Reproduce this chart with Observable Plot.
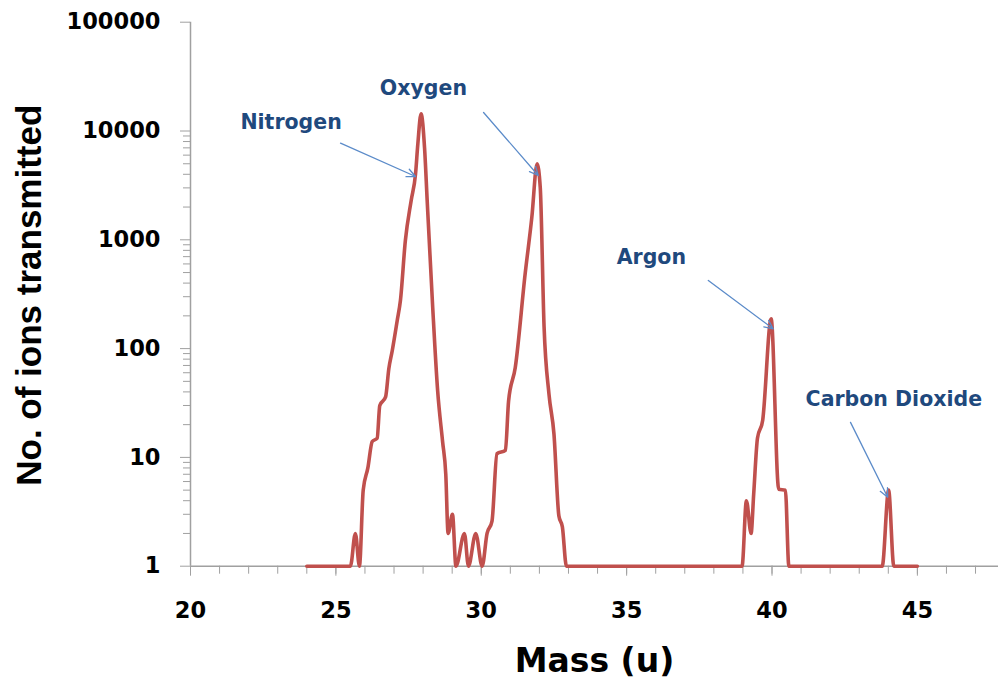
<!DOCTYPE html>
<html>
<head>
<meta charset="utf-8">
<script src="https://cdn.jsdelivr.net/npm/d3@7"></script>
<script src="https://cdn.jsdelivr.net/npm/@observablehq/plot@0.6"></script>
<style>
  html, body { margin: 0; padding: 0; background: #fff; }
  #chart svg { display: block; }
</style>
</head>
<body>
<div id="chart"></div>
<script>
// Mass spectrum of air: ion counts transmitted at each mass setting
const mass = [
  24.0, 25.5, 25.67, 25.81, 25.94, 26.10, 26.25, 26.42, 26.51, 26.71, 26.82, 26.94,
  27.11, 27.22, 27.39, 27.59, 27.74, 27.82, 27.93, 28.05, 28.14, 28.33, 28.50, 28.67,
  28.78, 28.86, 29.01, 29.13, 29.42, 29.56, 29.81, 30.03, 30.20, 30.37, 30.54, 30.83,
  30.94, 31.17, 31.51, 31.74, 31.92, 32.03, 32.16, 32.33, 32.50, 32.67, 32.79, 32.93,
  38.97, 39.12, 39.28, 39.37, 39.50, 39.68, 39.97, 40.23, 40.46, 40.58,
  43.79, 44.01, 44.19, 45.0
];
const ions = [
  1, 1, 2, 1, 5, 8, 14, 15, 30, 36, 65, 96,
  181, 277, 986, 2300, 4040, 7670, 14400, 7000, 2300, 240, 41, 14,
  7, 2, 3, 1, 2, 1, 2, 1, 2, 2.6, 10.8, 11.6,
  33, 67, 487, 1614, 5000, 3000, 160, 38, 16.5, 2.9, 2.3, 1,
  1, 4, 2, 4.6, 15, 22, 188, 5.1, 5, 1,
  1, 5, 1, 1
];

// Axis ticks
const xMajor = [20, 25, 30, 35, 40, 45];
const xMinor = d3.range(20, 48);
const yMajor = [1, 10, 100, 1000, 10000, 100000];
const yMinor = [10, 100, 1000, 10000].flatMap(d => d3.range(2, 10).map(k => k * d / 10));

// Peak annotations: label position and arrow from label to peak
const peakName   = ["Nitrogen", "Oxygen", "Argon", "Carbon Dioxide"];
const labelMass  = [23.46, 28.01, 35.85, 44.19];
const labelCount = [11970, 24600, 688, 34];
const arrowMass0  = [25.16, 30.08, 37.81, 42.70];
const arrowCount0 = [7730, 14800, 423, 21];
const arrowMass1  = [27.74, 31.96, 40.04, 43.98];
const arrowCount1 = [3820, 3900, 152, 4.3];

const spectrum = mass.map((m, i) => ({mass: m, ions: ions[i]}));
const peaks = peakName.map((name, i) => ({
  name,
  lx: labelMass[i], ly: labelCount[i],
  x1: arrowMass0[i], y1: arrowCount0[i],
  x2: arrowMass1[i], y2: arrowCount1[i]
}));

const axisGray = "#a0a0a0";
const font = "'DejaVu Sans', sans-serif";

const chart = Plot.plot({
  width: 998,
  height: 689,
  marginLeft: 190,
  marginRight: 0,
  marginTop: 21.7,
  marginBottom: 123.3,
  style: {fontFamily: font, background: "#fff", overflow: "visible"},
  x: {domain: [20, 47.79], label: null},
  y: {type: "log", domain: [1, 100000], label: null},
  marks: [
    // minor ticks
    Plot.axisX(xMinor, {tickSize: 8, stroke: axisGray, tickFormat: () => ""}),
    Plot.axisY(yMinor, {tickSize: 7, stroke: axisGray, tickFormat: () => ""}),
    // major ticks with labels
    Plot.axisX(xMajor, {
      tickSize: 10, tickPadding: 26, stroke: axisGray,
      fontSize: 22.5, fontWeight: "bold", fill: "#000", fontFamily: font,
      tickFormat: d => String(d)
    }),
    Plot.axisY(yMajor, {
      tickSize: 10, tickPadding: 20, stroke: axisGray,
      fontSize: 22.5, fontWeight: "bold", fill: "#000", fontFamily: font,
      tickFormat: d => String(d)
    }),
    // axis lines
    Plot.ruleY([1], {stroke: axisGray, strokeWidth: 1.5}),
    Plot.ruleX([20], {stroke: axisGray, strokeWidth: 1.5}),
    // spectrum
    Plot.line(spectrum, {
      x: "mass", y: "ions", curve: "monotone-x",
      stroke: "#c0504d", strokeWidth: 3.6, strokeLinejoin: "round"
    }),
    // peak labels
    Plot.arrow(peaks, {
      x1: "x1", y1: "y1", x2: "x2", y2: "y2",
      stroke: "#5b8bc9", strokeWidth: 1.3, headLength: 11, headAngle: 50
    }),
    Plot.text(peaks, {
      x: "lx", y: "ly", text: "name",
      fill: "#1f497d", fontSize: 20.5, fontWeight: "bold", fontFamily: font
    }),
    // axis titles
    Plot.text(["Mass (u)"], {
      frameAnchor: "bottom", dy: 106, text: d => d,
      fill: "#000", fontSize: 33, fontWeight: "bold", fontFamily: font
    }),
    Plot.text(["No. of ions transmitted"], {
      frameAnchor: "left", dx: -161, dy: 1, rotate: -90, text: d => d,
      textAnchor: "middle", lineAnchor: "middle",
      fill: "#000", fontSize: 35, fontWeight: "bold",
      fontFamily: "'Liberation Sans', Arial, sans-serif"
    })
  ]
});

document.getElementById("chart").appendChild(chart);
</script>
</body>
</html>
